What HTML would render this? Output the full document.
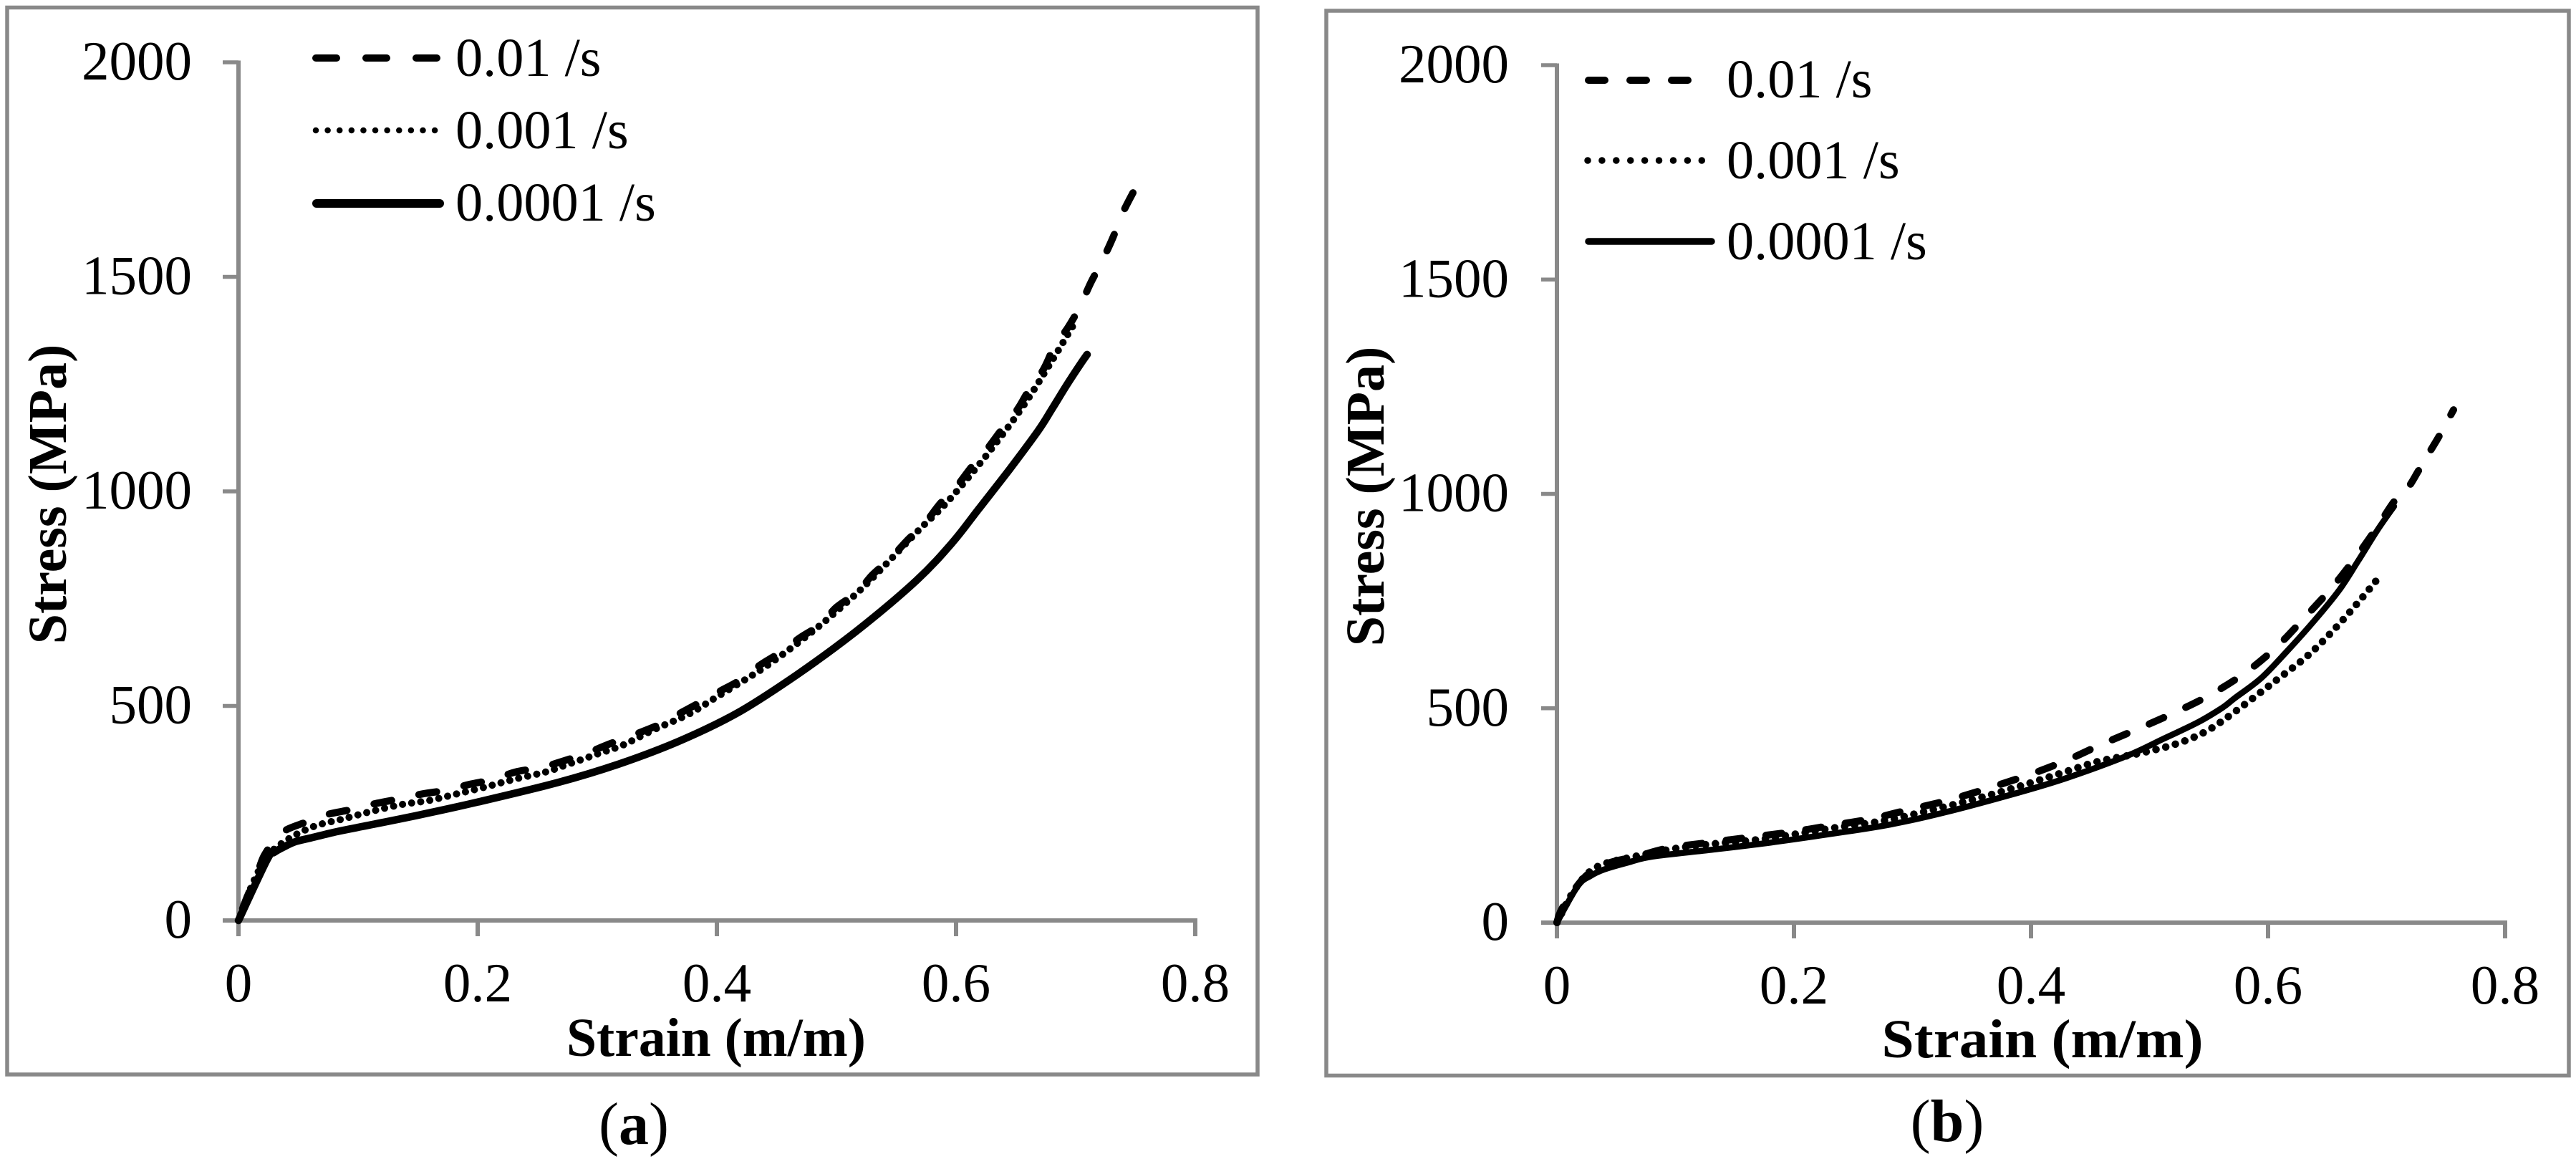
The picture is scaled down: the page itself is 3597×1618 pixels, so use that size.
<!DOCTYPE html>
<html lang="en">
<head>
<meta charset="utf-8">
<title>Stress-strain curves at three strain rates</title>
<style>
html,body{margin:0;padding:0;background:#fff;}
svg{display:block;}
text{font-family:"Liberation Serif",serif;fill:#000;}
.tick{font-size:77px;}
.legend{font-size:76.3px;}
.title{font-size:76px;font-weight:bold;}
.cap{font-size:84px;}
.frame{fill:none;stroke:#898989;stroke-width:5.5;}
</style>
</head>
<body>
<svg id="figure" xmlns="http://www.w3.org/2000/svg" width="3597" height="1618" viewBox="0 0 3597 1618">
  <rect x="0" y="0" width="3597" height="1618" fill="#fff"/>

  <g id="panel-a">
    <rect class="frame" x="10" y="10.5" width="1746" height="1489.5"/>
    <text class="title" x="1000" y="1474" text-anchor="middle" textLength="418" lengthAdjust="spacingAndGlyphs">Strain (m/m)</text>
    <text class="title" transform="translate(92 690) rotate(-90)" text-anchor="middle">Stress (MPa)</text>
    <g>
      <line x1="441" x2="610" y1="81" y2="81" stroke="#000" stroke-width="10" stroke-linecap="round" stroke-dasharray="29 41"/>
      <text class="legend" x="636" y="106">0.01 /s</text>
      <line x1="441" x2="608" y1="182" y2="182" stroke="#000" stroke-width="8.5" stroke-linecap="round" stroke-dasharray="0.01 16.6"/>
      <text class="legend" x="636" y="207">0.001 /s</text>
      <line x1="442" x2="614" y1="284" y2="284" stroke="#000" stroke-width="12" stroke-linecap="round"/>
      <text class="legend" x="636" y="308">0.0001 /s</text>
    </g>
    <text class="cap" x="885" y="1597" text-anchor="middle">(<tspan font-weight="bold">a</tspan>)</text>
  </g>

  <g id="panel-b">
    <rect class="frame" x="1852" y="15" width="1735" height="1486.5"/>
    <text class="title" x="2852" y="1476" text-anchor="middle" textLength="449" lengthAdjust="spacingAndGlyphs">Strain (m/m)</text>
    <text class="title" transform="translate(1932 693) rotate(-90)" text-anchor="middle">Stress (MPa)</text>
    <g>
      <line x1="2218" x2="2357" y1="112" y2="112" stroke="#000" stroke-width="10" stroke-linecap="round" stroke-dasharray="23 35"/>
      <text class="legend" x="2411" y="136">0.01 /s</text>
      <line x1="2217" x2="2377" y1="224" y2="224" stroke="#000" stroke-width="9.5" stroke-linecap="round" stroke-dasharray="0.01 19.9"/>
      <text class="legend" x="2411" y="249">0.001 /s</text>
      <line x1="2218" x2="2390" y1="337" y2="337" stroke="#000" stroke-width="9.5" stroke-linecap="round"/>
      <text class="legend" x="2411" y="362">0.0001 /s</text>
    </g>
    <text class="cap" x="2719" y="1593" text-anchor="middle">(<tspan font-weight="bold">b</tspan>)</text>
  </g>
</svg>

<script>
// Axis tick values and labels
const xTickValues = [0, 0.2, 0.4, 0.6, 0.8];
const xTickLabels = ["0", "0.2", "0.4", "0.6", "0.8"];
const yTickValues = [0, 500, 1000, 1500, 2000];
const yTickLabels = ["0", "500", "1000", "1500", "2000"];

// Panel (a) series
const aFastStrain = [0, .0054, .0162, .0222, .0359, .0563, .0743, .0952, .1138, .1359, .1539, .1749, .1928, .2138, .2317, .2539, .2719, .2904, .3108, .3473, .3665, .3832, .4024, .4186, .4365, .4521, .4695, .4862, .5, .5174, .5299, .5449, .5599, .5731, .5868, .6, .6138, .6257, .6389, .6515, .6605, .673, .682, .694, .7036, .7126, .7216, .7311, .7383, .7479];
const aFastStress = [0, 42, 114, 155, 204, 229, 247, 259, 272, 284, 295, 304, 317, 329, 346, 357, 372, 389, 412, 451, 479, 504, 534, 559, 596, 623, 659, 689, 730, 765, 805, 843, 888, 923, 972, 1010, 1060, 1098, 1147, 1192, 1234, 1284, 1336, 1384, 1431, 1486, 1534, 1591, 1643, 1696];
const aMidStrain = [0, .0102, .0234, .0401, .0629, .088, .1108, .1359, .1599, .1826, .2078, .2305, .2569, .2725, .3012, .3216, .3485, .3766, .3982, .4246, .4431, .4683, .4928, .5198, .5413, .5689, .5892, .6096, .6341, .6569, .679, .7012];
const aMidStress = [0, 75, 147, 187, 219, 237, 254, 270, 280, 295, 312, 329, 346, 361, 389, 409, 446, 481, 518, 563, 596, 648, 703, 770, 830, 910, 965, 1030, 1115, 1202, 1299, 1402];
const aSlowStrain = [0, .024, .03, .0383, .0479, .0599, .079, .1, .1497, .2, .2677, .3174, .3677, .4174, .4671, .5174, .5671, .597, .6192, .6449, .6683, .6802, .6928, .7048, .7096];
const aSlowStress = [0, 142, 159, 172, 184, 192, 205, 217, 245, 276, 322, 364, 417, 484, 573, 676, 793, 881, 960, 1052, 1140, 1192, 1249, 1300, 1319];

// Panel (b) series
const bFastStrain = [0, .0048, .023, .0417, .0683, .0943, .1287, .1625, .197, .2302, .2647, .2979, .3311, .3644, .3976, .4296, .4598, .4912, .5221, .5523, .5819, .6079, .632, .655, .6761, .6924, .7063, .7184, .7269, .7366, .745, .7565];
const bFastStress = [0, 35, 105, 137, 155, 174, 187, 199, 211, 226, 242, 264, 286, 314, 344, 378, 416, 453, 491, 533, 585, 645, 715, 785, 860, 924, 982, 1016, 1054, 1099, 1138, 1196];
const bMidStrain = [0, .0157, .0338, .0671, .1045, .1366, .171, .2073, .2363, .2743, .3106, .3498, .3855, .4248, .4568, .49, .5215, .5462, .5692, .6115, .6332, .6538, .6761, .6961];
const bMidStress = [0, 80, 130, 155, 175, 185, 194, 209, 222, 237, 259, 286, 314, 348, 376, 394, 416, 444, 486, 575, 622, 678, 747, 814];
const bSlowStrain = [0, .0175, .0284, .0399, .0598, .0804, .1305, .1807, .2314, .2816, .3299, .3903, .4308, .481, .5112, .5414, .5613, .5716, .594, .6157, .6399, .6604, .6761, .6924, .7063];
const bSlowStress = [0, 85, 109, 124, 140, 154, 170, 187, 207, 229, 259, 304, 338, 389, 428, 468, 501, 523, 570, 632, 707, 777, 844, 916, 971];

const SVGNS = "http://www.w3.org/2000/svg";

function makeEl(tag, parent, attrs) {
  const el = document.createElementNS(SVGNS, tag);
  for (const k in attrs) el.setAttribute(k, attrs[k]);
  parent.appendChild(el);
  return el;
}

// Smooth curve through the mapped points (Catmull-Rom converted to cubic Beziers)
function smoothPath(pts) {
  let d = "M" + pts[0][0].toFixed(1) + " " + pts[0][1].toFixed(1);
  for (let i = 0; i < pts.length - 1; i++) {
    const p0 = pts[Math.max(i - 1, 0)];
    const p1 = pts[i];
    const p2 = pts[i + 1];
    const p3 = pts[Math.min(i + 2, pts.length - 1)];
    const c1x = p1[0] + (p2[0] - p0[0]) / 6;
    const c1y = p1[1] + (p2[1] - p0[1]) / 6;
    const c2x = p2[0] - (p3[0] - p1[0]) / 6;
    const c2y = p2[1] - (p3[1] - p1[1]) / 6;
    d += " C" + c1x.toFixed(1) + " " + c1y.toFixed(1) + " " + c2x.toFixed(1) + " " + c2y.toFixed(1) + " " + p2[0].toFixed(1) + " " + p2[1].toFixed(1);
  }
  return d;
}

function drawPanel(cfg) {
  const root = document.getElementById(cfg.id);
  const xScale = v => cfg.x0 + (v / 0.8) * (cfg.x8 - cfg.x0);
  const yScale = v => cfg.y0 - (v / 2000) * (cfg.y0 - cfg.y2000);
  const gray = "#898989";

  const axisGroup = makeEl("g", root, {});
  
  

  const yAxis = makeEl("line", axisGroup, {x1: xScale(0), x2: xScale(0), y1: yScale(2000) - 2.5, y2: cfg.y0, stroke: gray, "stroke-width": 6});
  
  

  const xAxis = makeEl("line", axisGroup, {x1: xScale(0) - 22, x2: xScale(0.8) + 3, y1: cfg.y0, y2: cfg.y0, stroke: gray, "stroke-width": 6});
  
  

  yTickValues.forEach((v, i) => {
    const y = yScale(v);
    if (v !== 0) {
      const tk = makeEl("line", axisGroup, {x1: xScale(0) - 22, x2: xScale(0), y1: y, y2: y, stroke: gray, "stroke-width": 5.5});
      
      
    }
    const t = makeEl("text", axisGroup, {x: cfg.yLabelX, y: y + 24, "text-anchor": "end", class: "tick"});
    
    
    t.textContent = yTickLabels[i];
  });

  xTickValues.forEach((v, i) => {
    const x = xScale(v);
    const tk = makeEl("line", axisGroup, {x1: x, x2: x, y1: cfg.y0, y2: cfg.y0 + 22, stroke: gray, "stroke-width": 6});
    
    
    const t = makeEl("text", axisGroup, {x: x, y: cfg.xLabelY, "text-anchor": "middle", class: "tick"});
    
    
    t.textContent = xTickLabels[i];
  });

  cfg.series.forEach(s => {
    const pts = s.strain.map((v, i) => [xScale(v), yScale(s.stress[i])]);
    const p = makeEl("path", root, {d: smoothPath(pts), fill: "none", stroke: "#000", "stroke-width": s.width, "stroke-linecap": "round", "stroke-linejoin": "round"});
    if (s.dash.length) {
      p.setAttribute("stroke-dasharray", s.dash.join(" "));
      // Anchor the pattern at the far end of the curve so the last dash or dot lands where the curve stops
      const period = s.dash[0] + s.dash[1];
      p.setAttribute("stroke-dashoffset", ((s.endPhase - p.getTotalLength()) % period).toFixed(2));
    }
    
    
  });
}

drawPanel({
  id: "panel-a", x0: 333, x8: 1669, y0: 1285, y2000: 87, yLabelX: 268, xLabelY: 1398,
  series: [
    {name: "panel-a-series-001", strain: aFastStrain, stress: aFastStress, width: 10, dash: [25, 39], endPhase: 25},
    {name: "panel-a-series-0001", strain: aMidStrain, stress: aMidStress, width: 10, dash: [0.01, 12.8], endPhase: 0.005},
    {name: "panel-a-series-00001", strain: aSlowStrain, stress: aSlowStress, width: 10.5, dash: [], endPhase: 0}
  ]
});

drawPanel({
  id: "panel-b", x0: 2174, x8: 3498, y0: 1288, y2000: 91, yLabelX: 2107, xLabelY: 1401,
  series: [
    {name: "panel-b-series-001", strain: bFastStrain, stress: bFastStress, width: 10, dash: [22, 34], endPhase: 8},
    {name: "panel-b-series-0001", strain: bMidStrain, stress: bMidStress, width: 10.5, dash: [0.01, 14], endPhase: 0.005},
    {name: "panel-b-series-00001", strain: bSlowStrain, stress: bSlowStress, width: 8.5, dash: [], endPhase: 0}
  ]
});
</script>
</body>
</html>
